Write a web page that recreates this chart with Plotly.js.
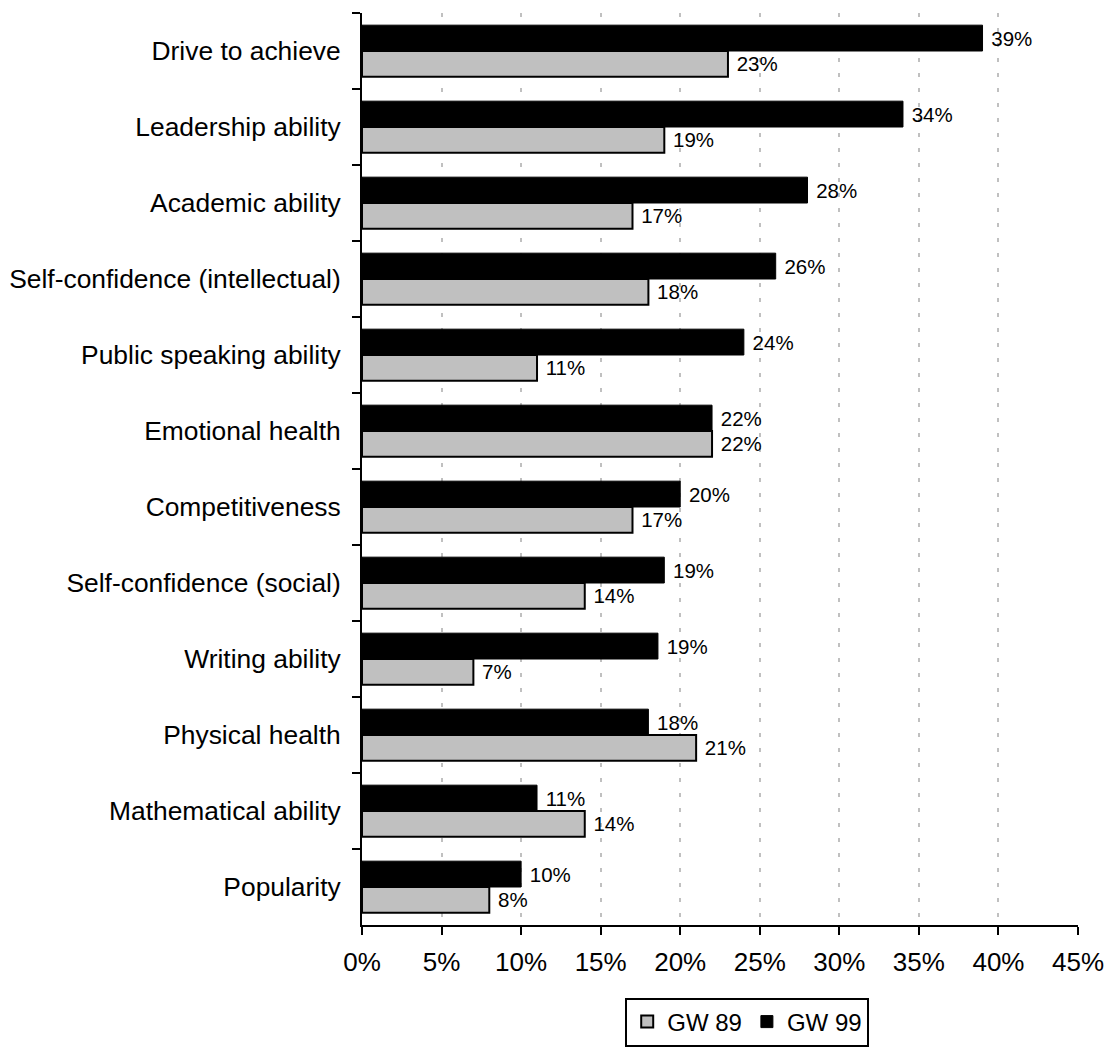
<!DOCTYPE html>
<html>
<head>
<meta charset="utf-8">
<script src="https://cdn.plot.ly/plotly-3.0.1.min.js"></script>
<style>
  html, body { margin: 0; padding: 0; background: #ffffff; }
  #chart { width: 1104px; height: 1047px; }
</style>
</head>
<body>
<div id="chart"></div>
<script>
const categories = [
  "Drive to achieve",
  "Leadership ability",
  "Academic ability",
  "Self-confidence (intellectual)",
  "Public speaking ability",
  "Emotional health",
  "Competitiveness",
  "Self-confidence (social)",
  "Writing ability",
  "Physical health",
  "Mathematical ability",
  "Popularity"
];
const gw99 = [39, 34, 28, 26, 24, 22, 20, 19, 18.6, 18, 11, 10];
const gw89 = [23, 19, 17, 18, 11, 22, 17, 14, 7, 21, 14, 8];
const seriesNames = ["GW 89", "GW 99"];
const xTickValues = [0, 5, 10, 15, 20, 25, 30, 35, 40, 45];

const FONT = "Liberation Sans, Arial, Helvetica, sans-serif";
const label = v => "\u00A0" + Math.round(v) + "%";

const traces = [
  {
    type: "bar",
    orientation: "h",
    name: seriesNames[1],
    y: categories,
    x: gw99,
    text: gw99.map(label),
    textposition: "outside",
    constraintext: "none",
    cliponaxis: false,
    textfont: { family: FONT, size: 20.5, color: "#000000" },
    marker: { color: "#000000", line: { color: "#000000", width: 1 } },
    hoverinfo: "skip"
  },
  {
    type: "bar",
    orientation: "h",
    name: seriesNames[0],
    y: categories,
    x: gw89,
    text: gw89.map(label),
    textposition: "outside",
    constraintext: "none",
    cliponaxis: false,
    textfont: { family: FONT, size: 20.5, color: "#000000" },
    marker: { color: "#c0c0c0", line: { color: "#000000", width: 2 } },
    hoverinfo: "skip"
  }
];

const layout = {
  width: 1104,
  height: 1047,
  margin: { l: 362, r: 26, t: 13, b: 122, pad: 0, autoexpand: false },
  paper_bgcolor: "#ffffff",
  plot_bgcolor: "#ffffff",
  font: { family: FONT, color: "#000000" },
  barmode: "group",
  bargap: 0.32,
  bargroupgap: 0,
  showlegend: true,
  legend: {
    orientation: "h",
    traceorder: "reversed",
    x: 0.538,
    xanchor: "center",
    y: -0.0795,
    yanchor: "top",
    bordercolor: "#000000",
    borderwidth: 2,
    bgcolor: "#ffffff",
    font: { family: FONT, size: 24, color: "#000000" },
    itemwidth: 30
  },
  xaxis: {
    range: [0, 45],
    tickvals: xTickValues,
    ticktext: xTickValues.map(v => v + "%"),
    showline: true,
    linecolor: "#000000",
    linewidth: 2,
    ticks: "outside",
    ticklen: 8,
    tickwidth: 2,
    tickcolor: "#000000",
    tickfont: { family: FONT, size: 26, color: "#000000" },
    ticklabelstandoff: 5,
    ticklabeloverflow: "allow",
    automargin: false,
    showgrid: true,
    gridcolor: "#c0c0c0",
    gridwidth: 2,
    griddash: "4px,11px",
    zeroline: false,
    fixedrange: true
  },
  yaxis: {
    type: "category",
    autorange: "reversed",
    showline: true,
    linecolor: "#000000",
    linewidth: 2,
    ticks: "outside",
    tickson: "boundaries",
    ticklen: 8,
    tickwidth: 2,
    tickcolor: "#000000",
    tickfont: { family: FONT, size: 26.4, color: "#000000" },
    ticklabelstandoff: 14,
    automargin: false,
    showgrid: false,
    zeroline: false,
    fixedrange: true
  }
};

Plotly.newPlot("chart", traces, layout, { displayModeBar: false, staticPlot: true });
</script>
</body>
</html>
